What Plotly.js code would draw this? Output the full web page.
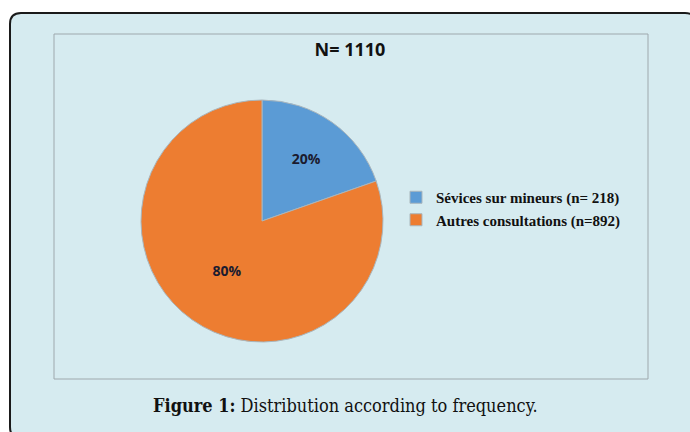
<!DOCTYPE html>
<html>
<head>
<meta charset="utf-8">
<script src="https://cdn.plot.ly/plotly-3.0.1.min.js"></script>
<style>html,body{margin:0;padding:0;background:#fff;}#chart{width:690px;height:432px;}</style>
</head>
<body>
<div id="chart"></div>
<script>
const categories = ["Sévices sur mineurs (n= 218)", "Autres consultations (n=892)"];
const counts = [218, 892];
const sliceColors = ["#5b9bd5", "#ed7d31"];
const chartTitle = "N= 1110";
const caption = "<b>Figure 1:</b> Distribution according to frequency.";

const W = 690, H = 432;
const px = x => x / W;
const py = y => 1 - y / H;
function roundRect(x0, y0, x1, y1, r) {
  return `M${px(x0)},${py(y0 + r)} Q${px(x0)},${py(y0)} ${px(x0 + r)},${py(y0)} ` +
         `L${px(x1 - r)},${py(y0)} Q${px(x1)},${py(y0)} ${px(x1)},${py(y0 + r)} ` +
         `L${px(x1)},${py(y1 - r)} Q${px(x1)},${py(y1)} ${px(x1 - r)},${py(y1)} ` +
         `L${px(x0 + r)},${py(y1)} Q${px(x0)},${py(y1)} ${px(x0)},${py(y1 - r)} Z`;
}

const cx = 262, cy = 221, R = 121;

const data = [{
  type: "pie",
  labels: categories,
  values: counts,
  sort: false,
  direction: "clockwise",
  rotation: 0,
  marker: {colors: sliceColors, line: {color: "#a9b6bd", width: 1}},
  texttemplate: "%{percent:.0%}",
  textposition: "inside",
  insidetextorientation: "horizontal",
  textfont: {family: "Open Sans, sans-serif", size: 14, color: "#1b1b2f", weight: "bold"},
  hoverinfo: "label+value+percent",
  domain: {x: [px(cx - R), px(cx + R)], y: [py(cy + R), py(cy - R)]}
}];

const layout = {
  width: W, height: H,
  margin: {l: 0, r: 0, t: 0, b: 0},
  paper_bgcolor: "#ffffff",
  showlegend: true,
  legend: {
    x: px(396), y: py(181), xanchor: "left", yanchor: "top",
    bgcolor: "rgba(0,0,0,0)",
    font: {family: "Liberation Serif, Times New Roman, serif", size: 15, color: "#111", weight: "bold"},
    itemwidth: 30, tracegroupgap: 0
  },
  title: {
    text: "<b>" + chartTitle + "</b>",
    x: px(350), xanchor: "center", y: py(50), yanchor: "middle",
    font: {family: "Open Sans, sans-serif", size: 18, color: "#111"}
  },
  shapes: [
    {type: "path", xref: "paper", yref: "paper", layer: "below",
     path: roundRect(10, 13, 696, 438, 11),
     fillcolor: "#d6ebf0", line: {color: "#1a1a1a", width: 2}},
    {type: "rect", xref: "paper", yref: "paper", layer: "below",
     x0: px(54), x1: px(648), y0: py(379), y1: py(34),
     fillcolor: "rgba(0,0,0,0)", line: {color: "#9ea8ad", width: 1}}
  ],
  annotations: [{
    text: caption, xref: "paper", yref: "paper",
    x: px(345), y: py(405), xanchor: "center", yanchor: "middle",
    showarrow: false,
    font: {family: "DejaVu Serif Condensed, Liberation Serif, serif", size: 18, color: "#111"}
  }]
};

Plotly.newPlot("chart", data, layout, {displayModeBar: false, staticPlot: true});
</script>
</body>
</html>
